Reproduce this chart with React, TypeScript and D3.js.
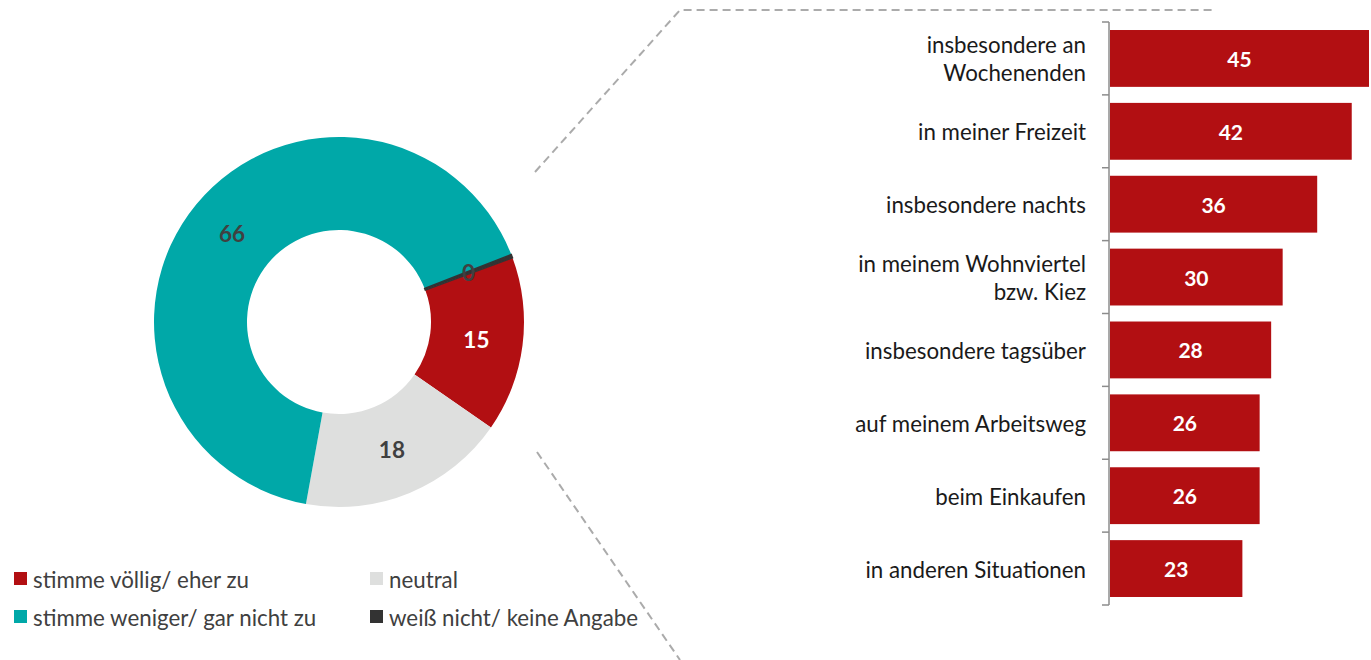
import React from "react";
import * as d3 from "d3";

const donutLabels = ["stimme völlig/ eher zu", "neutral", "stimme weniger/ gar nicht zu", "weiß nicht/ keine Angabe"];
const donutValues = [15.3, 18.2, 66.2, 0.3];
const donutColors = ["#B20F12", "#DEDFDE", "#00A8A8", "#333333"];
const donutLabelColors = ["#ffffff", "#404040", "#404040", "#404040"];

const barCategories = [
  ["insbesondere an", "Wochenenden "],
  ["in meiner Freizeit"],
  ["insbesondere nachts"],
  ["in meinem Wohnviertel", "bzw. Kiez"],
  ["insbesondere tagsüber"],
  ["auf meinem Arbeitsweg"],
  ["beim Einkaufen"],
  ["in anderen Situationen"],
];
const barValues = [45, 42, 36, 30, 28, 26, 26, 23];

const FONT = "Lato, 'Open Sans', sans-serif";

export default function App() {
  const W = 1371, H = 660;
  const cx = 339, cy = 322, rOuter = 185, rInner = 92;
  const start = (69.7 * Math.PI) / 180;
  const pie = d3.pie<number>().sort(null).value((d) => d).startAngle(start).endAngle(start + 2 * Math.PI);
  const arcs = pie(donutValues);
  const arc = d3.arc<d3.PieArcDatum<number>>().innerRadius(rInner).outerRadius(rOuter);

  const axisX = 1109;
  const y = d3.scaleBand<number>().domain(d3.range(barValues.length)).range([22, 605]).paddingInner(0.22).paddingOuter(0.11);
  const yb = d3.scaleBand<number>().domain(d3.range(barValues.length)).range([22, 605]);
  const x = d3.scaleLinear().domain([0, 45]).range([axisX + 1, 1369]);

  const ticks = d3.range(barValues.length + 1).map((i) => 22 + i * yb.step());

  const legend = [
    { i: 0, x: 14, y: 579 },
    { i: 1, x: 370, y: 579 },
    { i: 2, x: 14, y: 617 },
    { i: 3, x: 370, y: 617 },
  ];

  return (
    <svg width={W} height={H} style={{ position: "absolute", left: 0, top: 0, background: "#fff" }} fontFamily={FONT}>
      <polyline points="535,172 680,10 1212,10" fill="none" stroke="#ABABAB" strokeWidth={2} strokeDasharray="8,5" />
      <polyline points="537,452 680,660" fill="none" stroke="#ABABAB" strokeWidth={2} strokeDasharray="8,5" />

      <g transform={`translate(${cx},${cy})`}>
        {arcs.map((a, i) => (
          <path key={i} d={arc(a) || ""} fill={donutColors[i]} stroke={i === 3 ? "#333" : "none"} strokeWidth={i === 3 ? 1.5 : 0} />
        ))}
        {arcs.map((a, i) => {
          const [lx, ly] = arc.centroid(a);
          return (
            <text key={i} x={lx} y={ly} textAnchor="middle" dominantBaseline="central" fontSize={22.5} fontWeight="bold" fill={donutLabelColors[i]}>
              {Math.round(donutValues[i])}
            </text>
          );
        })}
      </g>

      {legend.map((l) => (
        <g key={l.i}>
          <rect x={l.x} y={l.y - 7} width={13} height={13} fill={donutColors[l.i]} />
          <text x={l.x + 19} y={l.y} dominantBaseline="central" fontSize={22.3} fill="#404040">
            {donutLabels[l.i]}
          </text>
        </g>
      ))}

      {barValues.map((v, i) => (
        <g key={i}>
          <rect x={x(0)} y={y(i)!} width={x(v) - x(0)} height={y.bandwidth()} fill="#B20F12" />
          <text x={(x(0) + x(v)) / 2} y={y(i)! + y.bandwidth() / 2} textAnchor="middle" dominantBaseline="central" fontSize={21} fontWeight="bold" fill="#fff">
            {v}
          </text>
          <text x={axisX - 23} y={yb(i)! + yb.bandwidth() / 2} textAnchor="end" fontSize={22.3} fill="#1a1a1a" dominantBaseline="central">
            {barCategories[i].map((line, j) => (
              <tspan key={j} x={axisX - 23} dy={j === 0 ? -((barCategories[i].length - 1) * 28) / 2 : 28}>
                {line}
              </tspan>
            ))}
          </text>
        </g>
      ))}
      <line x1={axisX} x2={axisX} y1={22} y2={605} stroke="#8C8C8C" strokeWidth={1.5} />
      {ticks.map((t, i) => (
        <line key={i} x1={axisX - 7} x2={axisX} y1={t} y2={t} stroke="#8C8C8C" strokeWidth={1.5} />
      ))}
    </svg>
  );
}
